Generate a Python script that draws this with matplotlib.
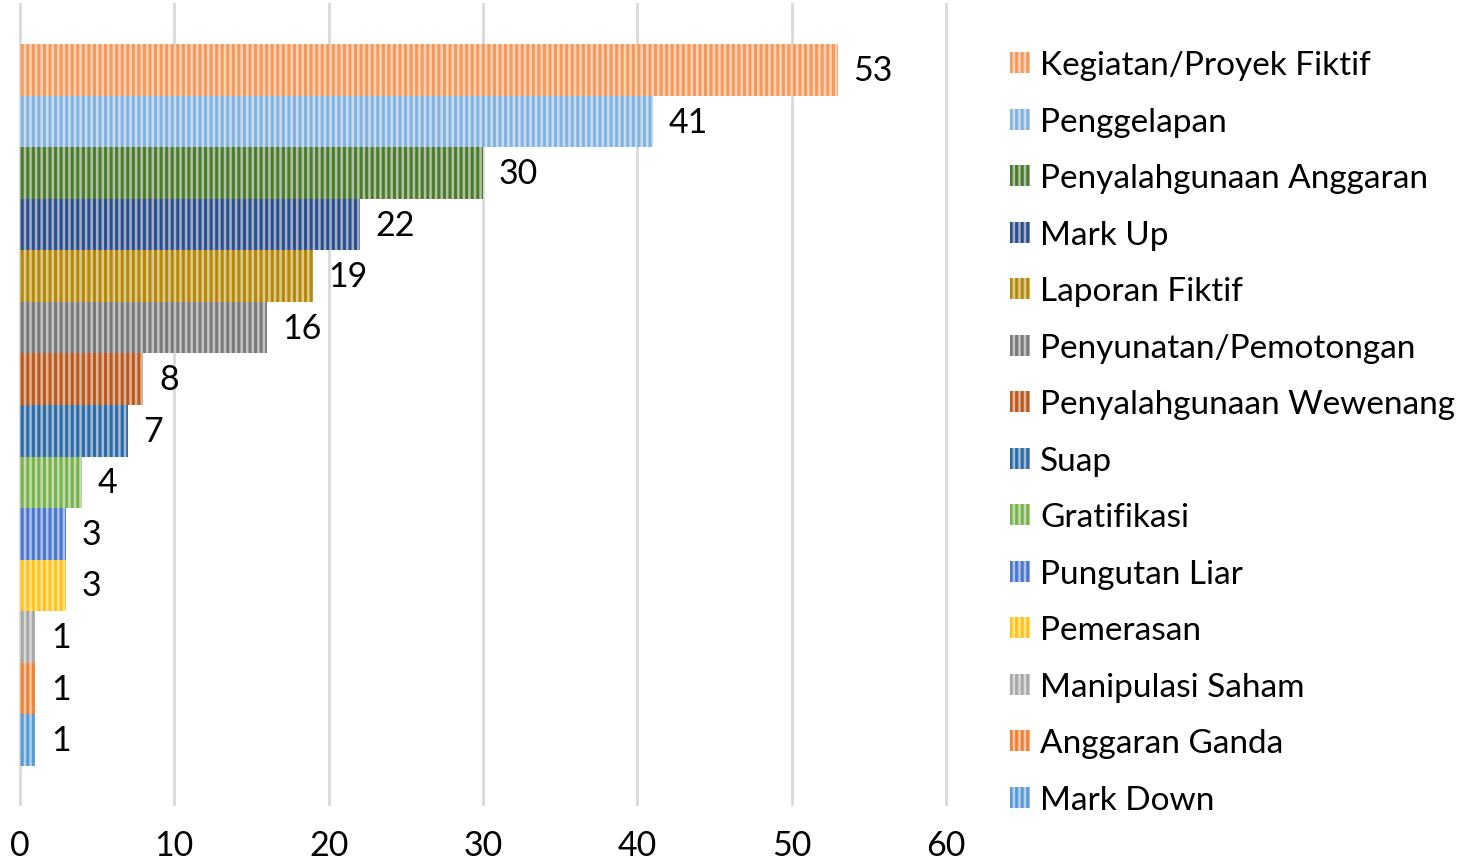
import matplotlib
matplotlib.use("Agg")
import matplotlib.pyplot as plt
from matplotlib.colors import to_rgb
from matplotlib.patches import Patch

categories = ["Kegiatan/Proyek Fiktif", "Penggelapan", "Penyalahgunaan Anggaran",
              "Mark Up", "Laporan Fiktif", "Penyunatan/Pemotongan",
              "Penyalahgunaan Wewenang", "Suap", "Gratifikasi", "Pungutan Liar",
              "Pemerasan", "Manipulasi Saham", "Anggaran Ganda", "Mark Down"]
values = [53, 41, 30, 22, 19, 16, 8, 7, 4, 3, 3, 1, 1, 1]
colors = ["#F39A5C", "#85B3E0", "#4E7A30", "#2C4F8C", "#B58A08", "#7A7A7A",
          "#BA5A1E", "#2E6BA6", "#78B34E", "#4A78CC", "#FFC31A", "#A8A8A8",
          "#EE8236", "#5B9BD5"]
xticks = [0, 10, 20, 30, 40, 50, 60]

plt.rcParams['font.family'] = ['Lato', 'DejaVu Sans']
plt.rcParams['hatch.linewidth'] = 1.8

def lighten(c, f=0.55):
    r, g, b = to_rgb(c)
    return (r + (1 - r) * f, g + (1 - g) * f, b + (1 - b) * f)

fig = plt.figure(figsize=(14.73, 8.62), dpi=100)
ax = fig.add_axes([20 / 1473, 1 - 805 / 862, 926 / 1473, 800 / 862])

n = len(values)
for i, (v, c) in enumerate(zip(values, colors)):
    ax.barh(i, v, height=1.0, color=c, edgecolor=lighten(c), linewidth=0,
            hatch='|||', zorder=3)
    ax.text(v + 1.0, i, str(v), va='center', ha='left', fontsize=24.5,
            color='#000000', zorder=4)

ax.set_ylim(n - 1 + 0.5 + 0.74, -0.5 - 0.78)
ax.set_xlim(0, 60)
ax.set_xticks(xticks)
ax.set_xticklabels([str(t) for t in xticks], fontsize=24.5)
ax.set_yticks([])
ax.grid(axis='x', color='#D9D9D9', linewidth=2, zorder=0)
for gl in ax.get_xgridlines():
    gl.set_clip_on(False)
for s in ax.spines.values():
    s.set_visible(False)
ax.tick_params(axis='x', length=0, pad=18)

handles = [Patch(facecolor=c, edgecolor=lighten(c), linewidth=0, hatch='|||')
           for c in colors]
leg = fig.legend(handles, categories, loc='upper left',
                 bbox_to_anchor=(997 / 1473, 1 - 38 / 862),
                 frameon=False, fontsize=24, handlelength=0.6, handleheight=0.6,
                 handletextpad=0.3, labelspacing=0.795, borderaxespad=0)

fig.savefig("out.png", dpi=100)
